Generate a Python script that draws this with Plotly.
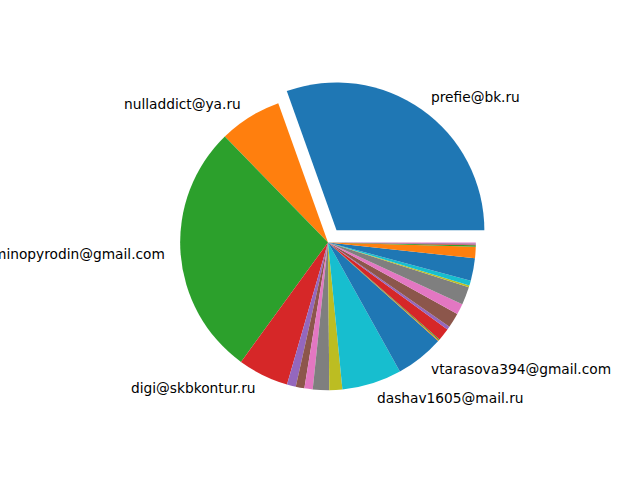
import math
import plotly.graph_objects as go

labels = ["prefie@bk.ru", "nulladdict@ya.ru", "minopyrodin@gmail.com", "digi@skbkontur.ru",
          "", "", "", "", "", "dashav1605@mail.ru", "vtarasova394@gmail.com",
          "", "", "", "", "", "", "", "", "", "", "", "", "", "", "", ""]
values = [109.66, 24.6, 99.7, 19.94, 3.5, 3.4, 3.26, 6.44, 5.1, 23.5, 19.1,
          0.4, 0.4, 4.9, 1.3, 5.8, 4.3, 7.0, 0.7, 2.0, 8.8, 4.5, 0.6, 0.3, 0.4, 0.1, 0.3]
pull = [0.1] + [0] * (len(values) - 1)

tab10 = ["#1f77b4", "#ff7f0e", "#2ca02c", "#d62728", "#9467bd",
         "#8c564b", "#e377c2", "#7f7f7f", "#bcbd22", "#17becf"]
colors = [tab10[i % 10] for i in range(len(values))]

W, H = 640, 480
cx, cy = 328.0, 237.6  # centre, px from left / bottom
R = 147.84
half = R * (1 + max(pull))

total = sum(values)

fig = go.Figure(go.Pie(
    values=values,
    labels=[f"s{i}" for i in range(len(values))],
    sort=False,
    direction="counterclockwise",
    rotation=90 - values[0] / total * 360,
    pull=pull,
    marker=dict(colors=colors, line=dict(width=0)),
    textinfo="none",
    hoverinfo="skip",
    showlegend=False,
    domain=dict(x=[(cx - half) / W, (cx + half) / W], y=[(cy - half) / H, (cy + half) / H]),
))

cum = 0.0
annotations = []
for lab, v, p in zip(labels, values, pull):
    mid = (cum + v / 2) / total * 2 * math.pi
    cum += v
    if not lab:
        continue
    rr = R * (1.1 + p)
    x = cx + rr * math.cos(mid)
    y = cy + rr * math.sin(mid)
    annotations.append(dict(
        x=x / W, y=y / H, xref="paper", yref="paper", text=lab, showarrow=False,
        xanchor="left" if math.cos(mid) > 0 else "right", yanchor="middle",
        font=dict(family="DejaVu Sans", size=13.75, color="black"), borderpad=0,
    ))

fig.update_layout(
    width=W, height=H, margin=dict(l=0, r=0, t=0, b=0),
    paper_bgcolor="white", plot_bgcolor="white",
    annotations=annotations,
)
fig.write_html("out.html")
